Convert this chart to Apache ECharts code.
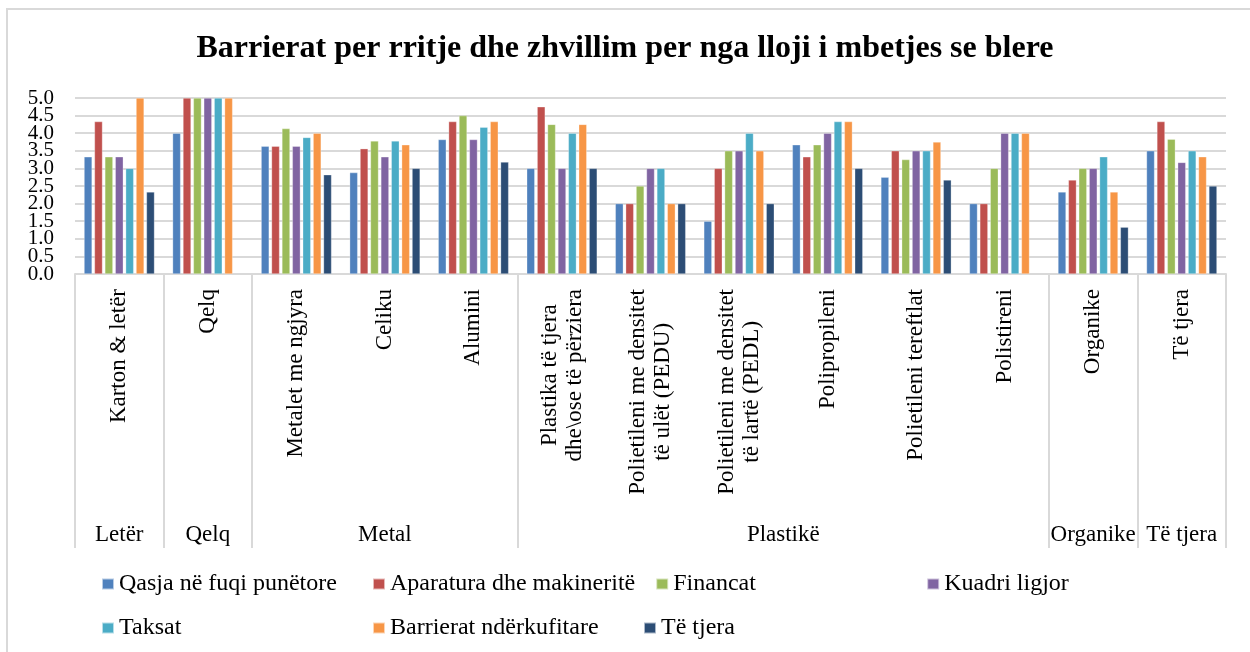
<!DOCTYPE html>
<html>
<head>
<meta charset="utf-8">
<script src="https://cdn.jsdelivr.net/npm/echarts@6/dist/echarts.min.js"></script>
<style>
  html, body {margin: 0; padding: 0; background: #fff; overflow: hidden;}
  #chart {position: absolute; left: 0; top: 0; width: 1250px; height: 652px;}
  #frame {position: absolute; left: 6px; top: 8px; width: 1260px; height: 660px;
          border: 2px solid #d9d9d9; pointer-events: none;}
</style>
</head>
<body>
<div id="chart"></div>
<div id="frame"></div>
<script>
const categories = [
  'Karton & letër', 'Qelq', 'Metalet me ngjyra', 'Celiku', 'Alumini',
  'Plastika të tjera\ndhe\\ose të përziera', 'Polietileni me densitet\ntë ulët (PEDU)',
  'Polietileni me densitet\ntë lartë (PEDL)', 'Polipropileni', 'Polietileni tereftlat',
  'Polistireni', 'Organike', 'Të tjera'
];
// group name, first category index, number of categories
const groups = [
  ['Letër', 0, 1], ['Qelq', 1, 1], ['Metal', 2, 3],
  ['Plastikë', 5, 6], ['Organike', 11, 1], ['Të tjera', 12, 1]
];
const seriesNames = [
  'Qasja në fuqi punëtore', 'Aparatura dhe makineritë', 'Financat', 'Kuadri ligjor',
  'Taksat', 'Barrierat ndërkufitare', 'Të tjera'
];
const qasja      = [3.33, 4.0, 3.63, 2.88, 3.82, 3.0, 2.0, 1.5, 3.67, 2.75, 2.0, 2.33, 3.5];
const aparatura  = [4.33, 5.0, 3.63, 3.56, 4.33, 4.75, 2.0, 3.0, 3.33, 3.5, 2.0, 2.67, 4.33];
const financat   = [3.33, 5.0, 4.13, 3.78, 4.5, 4.25, 2.5, 3.5, 3.67, 3.25, 3.0, 3.0, 3.83];
const kuadri     = [3.33, 5.0, 3.63, 3.33, 3.82, 3.0, 3.0, 3.5, 4.0, 3.5, 4.0, 3.0, 3.17];
const taksat     = [3.0, 5.0, 3.88, 3.78, 4.17, 4.0, 3.0, 4.0, 4.33, 3.5, 4.0, 3.33, 3.5];
const barrierat  = [5.0, 5.0, 4.0, 3.67, 4.33, 4.25, 2.0, 3.5, 4.33, 3.75, 4.0, 2.33, 3.33];
const teTjera    = [2.33, null, 2.82, 3.0, 3.18, 3.0, 2.0, 2.0, 3.0, 2.67, null, 1.33, 2.5];
const seriesData = [qasja, aparatura, financat, kuadri, taksat, barrierat, teTjera];
const colors = ['#4F81BD', '#C0504D', '#9BBB59', '#8064A2', '#4BACC6', '#F79646', '#2C4D75'];
const yTicks = [0, 0.5, 1, 1.5, 2, 2.5, 3, 3.5, 4, 4.5, 5];

const font = 'Liberation Serif';
const groupStarts = groups.map(g => g[1]);
const groupCenter = {};
groups.forEach(g => { groupCenter[(g[1] + g[2] / 2).toFixed(1)] = g[0]; });

// two overlaid y axes so the closely packed tick labels are not dropped
const yAxisFor = (whole) => ({
  type: 'value',
  position: 'left',
  min: yTicks[0], max: yTicks[yTicks.length - 1], interval: 0.5,
  axisLine: {show: false}, axisTick: {show: false},
  splitLine: {show: whole, lineStyle: {color: '#d9d9d9', width: 2}},
  axisLabel: {
    margin: 21, fontFamily: font, fontSize: 21, color: '#000',
    showMinLabel: true, showMaxLabel: true,
    formatter: v => (Number.isInteger(v) === whole ? v.toFixed(1) : '')
  }
});

const chart = echarts.init(document.getElementById('chart'));
chart.setOption({
  animation: false,
  color: colors,
  title: {
    text: 'Barrierat per rritje dhe zhvillim per nga lloji i mbetjes se blere',
    left: 'center', top: 28,
    textStyle: {fontFamily: font, fontSize: 32, fontWeight: 'bold', color: '#000'}
  },
  legend: {
    data: seriesNames,
    left: 101, top: 572, width: 1120, padding: 0,
    itemWidth: 12, itemHeight: 11, itemGap: 20,
    icon: 'rect',
    textStyle: {fontFamily: font, fontSize: 24, color: '#000', width: 233, lineHeight: 24, overflow: 'none'}
  },
  grid: {left: 75, right: 24, top: 98, bottom: 378, containLabel: false},
  xAxis: [{
    type: 'category',
    data: categories,
    axisLine: {lineStyle: {color: '#d9d9d9', width: 2}},
    axisTick: {
      show: true, length: 274,
      interval: (i) => groupStarts.includes(i),
      lineStyle: {color: '#d9d9d9', width: 2}
    },
    axisLabel: {
      interval: 0, rotate: 90, margin: 15,
      fontFamily: font, fontSize: 23, color: '#000',
      formatter: v => v.split('\n').map(l => '{c|' + l + '}').join('\n'),
      rich: {c: {align: 'center', fontFamily: font, fontSize: 23, lineHeight: 25, color: '#000'}}
    }
  }, {
    type: 'value',
    min: 0, max: categories.length, interval: 0.5,
    position: 'bottom', offset: 248,
    axisLine: {show: false}, axisTick: {show: false}, splitLine: {show: false},
    axisLabel: {
      margin: 1, fontFamily: font, fontSize: 23, color: '#000',
      formatter: v => groupCenter[v.toFixed(1)] || ''
    }
  }],
  yAxis: [yAxisFor(true), yAxisFor(false)],
  series: seriesNames.map((name, i) => ({
    name: name,
    type: 'bar',
    xAxisIndex: 0,
    yAxisIndex: 0,
    data: seriesData[i],
    barWidth: 8,
    barGap: '30%',
    itemStyle: {borderColor: 'rgba(255,255,255,0.6)', borderWidth: 0.5}
  }))
});
</script>
</body>
</html>
